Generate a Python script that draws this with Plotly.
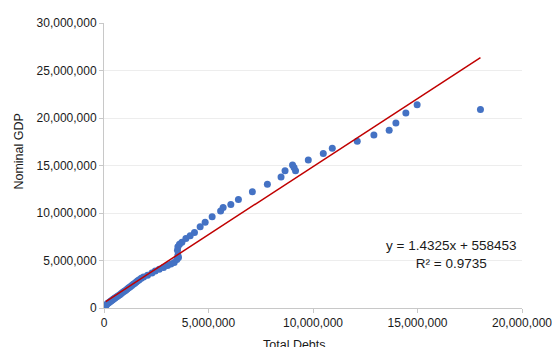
import plotly.graph_objects as go

total_debts = [
    86000, 110000, 158000, 205000, 253000, 301000, 349000, 397000, 444000, 492000,
    540000, 612000, 683000, 755000, 827000, 898000, 970000, 1042000, 1113000, 1185000,
    1257000, 1328000, 1400000, 1472000, 1543000, 1615000, 1687000, 1782000, 1892000, 2083000,
    2293000, 2451000, 2642000, 2848000, 3039000, 3201000, 3359000, 3488000, 3564000, 3536000,
    3516000, 3536000, 3612000, 3727000, 3918000, 4123000, 4329000, 4601000, 4840000, 5174000,
    5580000, 5700000, 6068000, 6431000, 7100000, 7817000, 8471000, 8662000, 9021000, 9092000,
    9164000, 9775000, 10492000, 10922000, 12117000, 12914000, 13645000, 13966000, 14443000, 14983000,
    18012000,
]
nominal_gdp = [
    232000, 338000, 443000, 517000, 601000, 675000, 760000, 833000, 918000, 992000,
    1076000, 1181000, 1287000, 1392000, 1519000, 1656000, 1762000, 1867000, 1994000, 2131000,
    2236000, 2363000, 2500000, 2606000, 2732000, 2869000, 2975000, 3133000, 3270000, 3449000,
    3692000, 3903000, 4082000, 4262000, 4473000, 4641000, 4789000, 5105000, 5316000, 5559000,
    6086000, 6435000, 6719000, 6930000, 7321000, 7595000, 7954000, 8544000, 9019000, 9599000,
    10221000, 10591000, 10907000, 11434000, 12236000, 13017000, 13787000, 14451000, 15053000, 14789000,
    14441000, 15580000, 16266000, 16825000, 17563000, 18217000, 18713000, 19483000, 20538000, 21382000,
    20886000,
]

trend_slope = 1.4325
trend_intercept = 558453
r_squared = 0.9735

x_ticks = [0, 5000000, 10000000, 15000000, 20000000]
y_ticks = [0, 5000000, 10000000, 15000000, 20000000, 25000000, 30000000]

FONT = "Liberation Sans, Arial, sans-serif"
TXT = "#1a1a1a"

x_min, x_max = min(total_debts), max(total_debts)
trend_x = [x_min, x_max]
trend_y = [trend_slope * v + trend_intercept for v in trend_x]

fig = go.Figure()
fig.add_trace(go.Scatter(
    x=total_debts, y=nominal_gdp, mode="markers",
    marker=dict(color="#4472C4", size=7, line=dict(width=0)),
    showlegend=False, hoverinfo="skip",
))
fig.add_trace(go.Scatter(
    x=trend_x, y=trend_y, mode="lines",
    line=dict(color="#C00000", width=1.5),
    showlegend=False, hoverinfo="skip",
))

fig.update_layout(
    width=552, height=347,
    margin=dict(l=104, r=30, t=23, b=39, autoexpand=False),
    paper_bgcolor="white", plot_bgcolor="white",
    font=dict(family=FONT, size=12, color=TXT),
    xaxis=dict(
        range=[0, 20000000], tickvals=x_ticks, tickformat=",d",
        showgrid=False, zeroline=False, automargin=False,
        showline=True, linecolor="#C8C8C8", linewidth=1,
        ticks="outside", ticklen=4, tickcolor="#C8C8C8",
        ticklabeloverflow="allow",
        tickfont=dict(family=FONT, size=12, color=TXT),
    ),
    yaxis=dict(
        range=[0, 30000000], tickvals=y_ticks, tickformat=",d",
        showgrid=True, gridcolor="#EDEDED", gridwidth=1, zeroline=False, automargin=False,
        showline=True, linecolor="#C8C8C8", linewidth=1,
        ticks="outside", ticklen=4, tickcolor="#C8C8C8",
        ticklabeloverflow="allow",
        tickfont=dict(family=FONT, size=12, color=TXT),
    ),
    annotations=[
        dict(text=f"y = {trend_slope}x + {trend_intercept}<br>R² = {r_squared}",
             xref="paper", yref="paper", x=(452 - 104) / 418.5, y=(307.7 - 254.5) / 284.4,
             xanchor="center", yanchor="middle", showarrow=False, align="center",
             font=dict(family=FONT, size=13.5, color=TXT)),
        dict(text="Total Debts", xref="paper", yref="paper",
             x=(295 - 104) / 418.5, y=-(345 - 307.7) / 284.4,
             xanchor="center", yanchor="middle", showarrow=False,
             font=dict(family=FONT, size=12.5, color=TXT)),
        dict(text="Nominal GDP", xref="paper", yref="paper",
             x=-(104 - 19) / 418.5, y=(307.7 - 151.5) / 284.4,
             xanchor="center", yanchor="middle", showarrow=False, textangle=-90,
             font=dict(family=FONT, size=12.5, color=TXT)),
    ],
)

fig.write_html("out.html")
